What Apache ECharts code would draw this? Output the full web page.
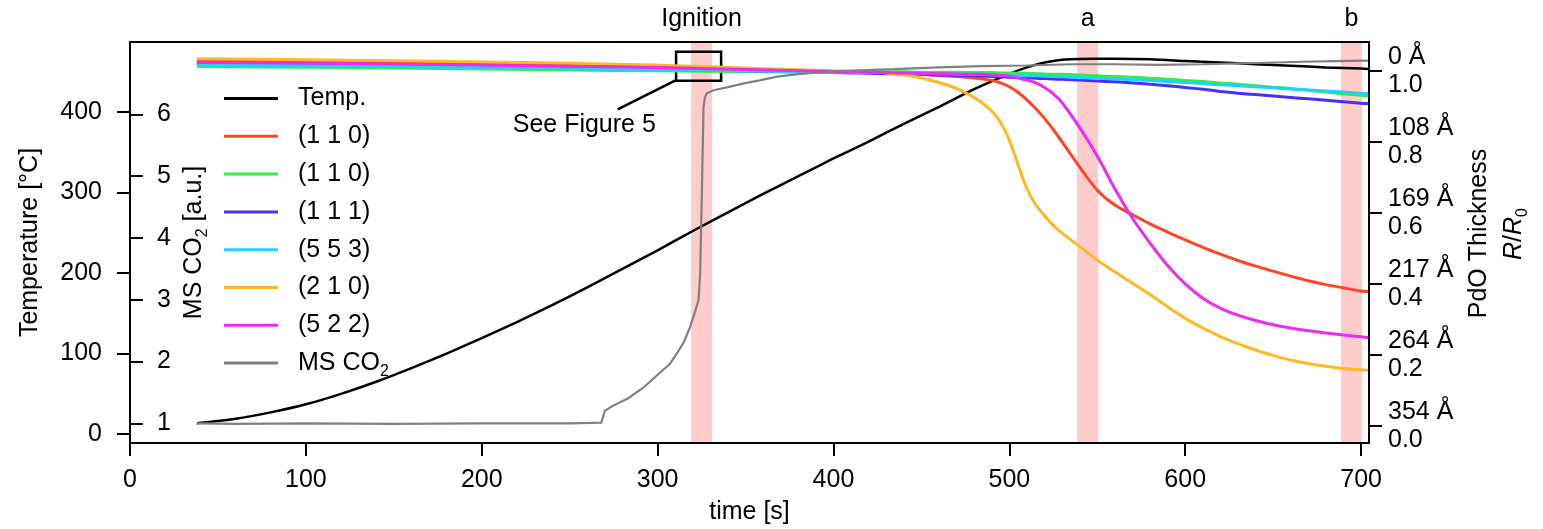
<!DOCTYPE html>
<html><head><meta charset="utf-8">
<script src="https://cdn.jsdelivr.net/npm/echarts@6/dist/echarts.min.js"></script>
<style>html,body{margin:0;padding:0;background:#fff}#c{width:1543px;height:529px}</style>
</head><body><div id="c"></div>
<script>
const FONT = '"Liberation Sans", Arial, Helvetica, sans-serif';

// ---- tick labels ----
const xTicks = [0, 100, 200, 300, 400, 500, 600, 700];
const tempTicks = [0, 100, 200, 300, 400];
const msTicks = [1, 2, 3, 4, 5, 6];
const rTicks = [0, 0.2, 0.4, 0.6, 0.8, 1.0];
const thicknessLabels = ['354 Å', '264 Å', '217 Å', '169 Å', '108 Å', '0 Å'];

// ---- legend ----
const seriesKeys = ['Temp', 'R110a', 'R110b', 'R111', 'R553', 'R210', 'R522', 'MSCO2'];
const legendLabels = ['Temp.', '(1 1 0)', '(1 1 0)', '(1 1 1)', '(5 5 3)', '(2 1 0)', '(5 2 2)', '{n|MS CO}{s|2}'];

// ---- highlighted time windows ----
const bandNames = ['Ignition', 'a', 'b'];
const bandStart = [319, 538.5, 688.5];
const bandEnd = [331, 550.5, 700.5];

// ---- temperature [°C] ----
const tempTime = [38, 60, 80, 100, 120, 140, 160, 180, 200, 220, 240, 260, 280, 300, 320, 340, 360, 380, 400, 420, 440, 460, 480, 500, 510, 520, 530, 540, 560, 580, 600, 620, 640, 660, 680, 700, 704];
const tempValues = [13.5, 19, 27, 37, 50, 65, 82, 100, 119, 139, 160, 182, 205, 228, 252, 275, 298, 320, 342, 363, 385, 406, 428, 447, 455, 461, 464.5, 465.5, 465.6, 465, 463, 461, 459, 457, 455, 453.5, 453];

// ---- MS CO2 [a.u.] ----
const msTime = [38, 60, 100, 150, 200, 250, 268, 268.5, 270, 275, 283, 292, 301, 307, 311, 315, 318.5, 321, 323.3, 324.2, 325.2, 326.1, 327, 328, 331.8, 340, 349, 358, 368, 380, 396, 415, 434, 460, 484, 510, 535, 560, 585, 610, 640, 667, 685, 704];
const msValues = [1.00, 0.99, 1.00, 0.99, 1.00, 1.00, 1.01, 1.02, 1.20, 1.29, 1.40, 1.58, 1.81, 1.96, 2.13, 2.32, 2.56, 2.78, 3.00, 3.43, 4.78, 6.12, 6.28, 6.34, 6.39, 6.44, 6.50, 6.55, 6.61, 6.65, 6.69, 6.71, 6.73, 6.76, 6.78, 6.79, 6.81, 6.81, 6.80, 6.81, 6.83, 6.85, 6.86, 6.87];

// ---- reflectance R/R0 ----
const rTime = [38, 100, 150, 200, 250, 300, 350, 400, 410, 420, 430, 440, 450, 460, 470, 480, 485, 490, 495, 500, 505, 510, 515, 520, 525, 530, 540, 550, 560, 570, 580, 590, 600, 610, 620, 630, 640, 650, 660, 670, 680, 690, 700, 704];
const r110a = [1.028, 1.026, 1.023, 1.020, 1.016, 1.011, 1.005, 0.998, 0.997, 0.996, 0.994, 0.992, 0.990, 0.987, 0.984, 0.980, 0.977, 0.973, 0.966, 0.955, 0.939, 0.918, 0.894, 0.866, 0.834, 0.800, 0.729, 0.664, 0.622, 0.595, 0.569, 0.546, 0.524, 0.503, 0.484, 0.466, 0.450, 0.436, 0.422, 0.409, 0.398, 0.389, 0.380, 0.378];
const r110b = [1.012, 1.010, 1.008, 1.005, 1.002, 1.000, 0.998, 0.997, 0.997, 0.997, 0.997, 0.997, 0.996, 0.996, 0.996, 0.995, 0.995, 0.995, 0.994, 0.994, 0.993, 0.993, 0.992, 0.991, 0.990, 0.990, 0.988, 0.986, 0.984, 0.982, 0.979, 0.976, 0.973, 0.970, 0.966, 0.962, 0.958, 0.954, 0.950, 0.945, 0.940, 0.935, 0.931, 0.929];
const r111 = [1.020, 1.018, 1.015, 1.012, 1.009, 1.005, 1.000, 0.995, 0.994, 0.993, 0.992, 0.991, 0.990, 0.988, 0.987, 0.986, 0.985, 0.984, 0.983, 0.982, 0.981, 0.980, 0.979, 0.978, 0.977, 0.976, 0.974, 0.971, 0.969, 0.966, 0.962, 0.958, 0.953, 0.948, 0.942, 0.937, 0.933, 0.929, 0.925, 0.921, 0.917, 0.913, 0.909, 0.908];
const r553 = [1.016, 1.014, 1.012, 1.009, 1.006, 1.003, 1.000, 0.996, 0.996, 0.995, 0.995, 0.994, 0.993, 0.992, 0.991, 0.990, 0.990, 0.989, 0.989, 0.988, 0.987, 0.986, 0.986, 0.985, 0.984, 0.983, 0.981, 0.979, 0.977, 0.975, 0.973, 0.970, 0.967, 0.964, 0.961, 0.958, 0.955, 0.952, 0.949, 0.946, 0.943, 0.940, 0.937, 0.936];
const r210 = [1.034, 1.031, 1.028, 1.025, 1.021, 1.016, 1.008, 1.000, 0.999, 0.997, 0.994, 0.989, 0.980, 0.967, 0.950, 0.925, 0.908, 0.886, 0.855, 0.805, 0.735, 0.668, 0.623, 0.592, 0.565, 0.543, 0.505, 0.467, 0.434, 0.402, 0.370, 0.336, 0.303, 0.276, 0.252, 0.232, 0.214, 0.199, 0.186, 0.176, 0.168, 0.162, 0.158, 0.157];
const r522 = [1.024, 1.022, 1.019, 1.016, 1.013, 1.009, 1.004, 0.998, 0.997, 0.996, 0.995, 0.994, 0.993, 0.992, 0.991, 0.990, 0.990, 0.989, 0.987, 0.985, 0.980, 0.974, 0.966, 0.953, 0.935, 0.910, 0.840, 0.760, 0.668, 0.585, 0.515, 0.452, 0.400, 0.360, 0.332, 0.312, 0.297, 0.285, 0.276, 0.268, 0.262, 0.256, 0.251, 0.249];

const colors = {Temp:'#000000', R110a:'#ff4524', R110b:'#33ee44', R111:'#4a30f5', R553:'#22d0ff', R210:'#ffb823', R522:'#ef2af0', MSCO2:'#808080'};

function pairs(t, v) { return t.map((x, i) => [x, v[i]]); }

const chart = echarts.init(document.getElementById('c'), null, {renderer: 'canvas'});

const tickStyle = {show: true, length: 13, lineStyle: {color: '#000', width: 2}};
const lbl = {color: '#000', fontSize: 25, fontFamily: FONT};

function lineSeries(key, data, yIdx, width, smooth) {
  return {
    name: key, type: 'line', data: data, xAxisIndex: 0, yAxisIndex: yIdx,
    showSymbol: false, symbol: 'none', smooth: smooth,
    lineStyle: {color: colors[key], width: width},
    itemStyle: {color: colors[key]},
    z: 3, silent: true, animation: false
  };
}

const tempSeries = lineSeries('Temp', pairs(tempTime, tempValues), 0, 2.5, 0.3);
tempSeries.markArea = {
  silent: true,
  itemStyle: {color: 'rgba(0,0,0,0)', borderColor: '#000', borderWidth: 2.5},
  data: [[{coord: [310.5, 438.4]}, {coord: [336.1, 474.4]}]]
};
tempSeries.markLine = {
  silent: true, symbol: ['none', 'none'], label: {show: false},
  lineStyle: {color: '#000', width: 2.5, type: 'solid'},
  data: [[{coord: [310.5, 439.3]}, {coord: [277.3, 403]}]]
};
tempSeries.markPoint = {
  silent: true, symbol: 'rect', symbolSize: 1, itemStyle: {color: 'rgba(0,0,0,0)'},
  label: {show: true, position: 'inside', formatter: 'See Figure 5', color: '#000', fontSize: 25, fontFamily: FONT},
  data: [{coord: [258.3, 383.5]}]
};

const bandSeries = {
  name: 'bands', type: 'line', data: [], xAxisIndex: 0, yAxisIndex: 0, z: 1, silent: true,
  markArea: {
    silent: true,
    itemStyle: {color: '#ffcccc'},
    label: {show: true, position: 'top', distance: 10, color: '#000', fontSize: 25, fontFamily: FONT},
    data: bandNames.map((n, i) => [{name: n, xAxis: bandStart[i]}, {xAxis: bandEnd[i]}])
  }
};

const series = [
  bandSeries,
  tempSeries,
  lineSeries('R110a', pairs(rTime, r110a), 2, 3, 0.3),
  lineSeries('R110b', pairs(rTime, r110b), 2, 3, 0.3),
  lineSeries('R111', pairs(rTime, r111), 2, 3, 0.3),
  lineSeries('R553', pairs(rTime, r553), 2, 3, 0.3),
  lineSeries('R210', pairs(rTime, r210), 2, 3, 0.3),
  lineSeries('R522', pairs(rTime, r522), 2, 3, 0.3),
  lineSeries('MSCO2', pairs(msTime, msValues), 1, 2.2, false)
];

const labelMap = {};
seriesKeys.forEach((k, i) => { labelMap[k] = legendLabels[i]; });

const option = {
  animation: false,
  backgroundColor: '#fff',
  textStyle: {fontFamily: FONT},
  grid: {left: 130, right: 174, top: 42, bottom: 86, outerBoundsMode: 'none', containLabel: false},
  legend: {
    orient: 'vertical', left: 224, top: 86, padding: 0, itemGap: 12.8,
    itemWidth: 54, itemHeight: 3, icon: 'rect',
    data: seriesKeys,
    formatter: name => labelMap[name],
    selectedMode: false,
    itemStyle: {borderWidth: 0},
    textStyle: {color: '#000', fontSize: 25, lineHeight: 25, fontFamily: FONT, padding: [0, 0, 0, 15],
      rich: {n: {fontSize: 25, lineHeight: 25, fontFamily: FONT, color: '#000'},
             s: {fontSize: 16, lineHeight: 25, verticalAlign: 'bottom', fontFamily: FONT, color: '#000', padding: [0, 0, -4, 0]}}}
  },
  xAxis: [{
    type: 'value', position: 'bottom', min: 0, max: 704.5, z: 5,
    name: 'time [s]', nameLocation: 'middle', nameGap: 57,
    nameTextStyle: lbl,
    axisLine: {show: true, onZero: false, lineStyle: {color: '#000', width: 2}},
    axisTick: Object.assign({customValues: xTicks}, tickStyle),
    axisLabel: Object.assign({customValues: xTicks, margin: 25}, lbl),
    splitLine: {show: false}
  }, {
    type: 'value', position: 'top', min: 0, max: 704.5, z: 5,
    axisLine: {show: true, onZero: false, lineStyle: {color: '#000', width: 2}},
    axisTick: {show: false}, axisLabel: {show: false}, splitLine: {show: false}
  }],
  yAxis: [{
    type: 'value', position: 'left', min: -11, max: 486.5, z: 5,
    name: 'Temperature [°C]', nameLocation: 'middle', nameGap: 87, nameRotate: 90,
    nameTextStyle: lbl,
    axisLine: {show: true, onZero: false, lineStyle: {color: '#000', width: 2}},
    axisTick: Object.assign({customValues: tempTicks}, tickStyle),
    axisLabel: Object.assign({customValues: tempTicks, margin: 28}, lbl),
    splitLine: {show: false}
  }, {
    type: 'value', position: 'left', min: 0.681, max: 7.17, z: 5,
    axisLine: {show: false},
    axisTick: Object.assign({customValues: msTicks, inside: true}, tickStyle),
    axisLabel: Object.assign({customValues: msTicks, inside: true, margin: 27}, lbl),
    splitLine: {show: false}
  }, {
    type: 'value', position: 'right', min: -0.0478, max: 1.0811, z: 5,
    axisLine: {show: true, onZero: false, lineStyle: {color: '#000', width: 2}},
    axisTick: Object.assign({customValues: rTicks}, tickStyle),
    axisLabel: Object.assign({
      customValues: rTicks, margin: 19, lineHeight: 28, align: 'left',
      formatter: v => {
        const i = rTicks.findIndex(t => Math.abs(t - v) < 1e-6);
        return thicknessLabels[i] + '\n' + v.toFixed(1);
      }
    }, lbl),
    splitLine: {show: false}
  }],
  graphic: [
    {type: 'text', x: 194, y: 242.5, rotation: Math.PI / 2, silent: true,
     style: {text: '{n|MS CO}{s|2}{n| [a.u.]}', align: 'center', verticalAlign: 'middle',
       rich: {n: {fontSize: 25, fontFamily: FONT, fill: '#000', lineHeight: 25},
              s: {fontSize: 16, fontFamily: FONT, fill: '#000', lineHeight: 25, verticalAlign: 'bottom', padding: [0, 0, -4, 0]}}}},
    {type: 'text', x: 1479, y: 233.5, rotation: Math.PI / 2, silent: true,
     style: {text: 'PdO Thickness', align: 'center', verticalAlign: 'middle', fontSize: 25, fontFamily: FONT, fill: '#000'}},
    {type: 'text', x: 1514, y: 234, rotation: Math.PI / 2, silent: true,
     style: {text: '{i|R}{n|/}{i|R}{s|0}', align: 'center', verticalAlign: 'middle',
       rich: {n: {fontSize: 25, fontFamily: FONT, fill: '#000', lineHeight: 25},
              i: {fontSize: 25, fontFamily: FONT, fontStyle: 'italic', fill: '#000', lineHeight: 25},
              s: {fontSize: 16, fontFamily: FONT, fill: '#000', lineHeight: 25, verticalAlign: 'bottom', padding: [0, 0, -4, 0]}}}}
  ],
  series: series
};
chart.setOption(option);
</script>
</body></html>
